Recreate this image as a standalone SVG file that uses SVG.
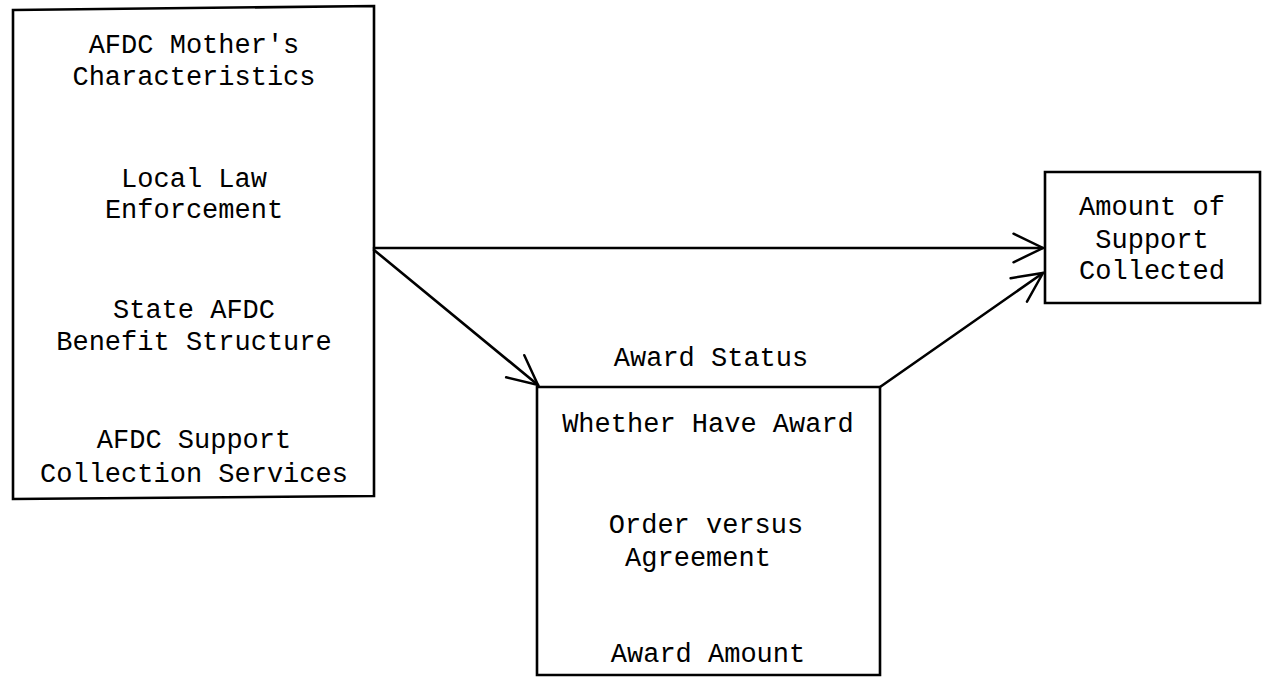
<svg xmlns="http://www.w3.org/2000/svg" width="1262" height="677" viewBox="0 0 1262 677">
<defs>
<style>
.box{fill:none;stroke:#000;stroke-width:2.6;stroke-linejoin:miter}
.t{font-family:"Liberation Mono","Courier New",monospace;font-size:27px;fill:#000;text-anchor:middle}
.c{fill:none;stroke:#000;stroke-width:2.6;stroke-linecap:round}
</style>
<marker id="arr" markerUnits="userSpaceOnUse" markerWidth="40" markerHeight="40" viewBox="-40 -20 42 40" refX="0" refY="0" orient="auto" overflow="visible">
<path d="M-31,-15 L0,0 L-31,15" fill="none" stroke="#000" stroke-width="2.6" stroke-linecap="round" stroke-linejoin="miter"/>
</marker>
</defs>
<rect width="1262" height="677" fill="#fff"/>
<g id="determinants">
<path class="box" d="M13,10 L374,6 L374,496 L13,499 Z"/>
<text class="t" x="194" y="53">AFDC Mother's</text>
<text class="t" x="194" y="85">Characteristics</text>
<text class="t" x="194" y="187">Local Law</text>
<text class="t" x="194" y="218">Enforcement</text>
<text class="t" x="194" y="318">State AFDC</text>
<text class="t" x="194" y="350">Benefit Structure</text>
<text class="t" x="194" y="448">AFDC Support</text>
<text class="t" x="194" y="482">Collection Services</text>
</g>
<g id="award-status">
<text class="t" x="711" y="366">Award Status</text>
<path class="box" d="M537,387 L880,387 L880,675 L537,675 Z"/>
<text class="t" x="708" y="432">Whether Have Award</text>
<text class="t" x="706" y="533">Order versus</text>
<text class="t" x="698" y="566">Agreement</text>
<text class="t" x="708" y="662">Award Amount</text>
</g>
<g id="support-collected">
<path class="box" d="M1045,172 L1260,172 L1260,303 L1045,303 Z"/>
<text class="t" x="1152" y="215">Amount of</text>
<text class="t" x="1152" y="248">Support</text>
<text class="t" x="1152" y="279">Collected</text>
</g>
<g id="connectors">
<path class="c" d="M374,248 L1043,248" marker-end="url(#arr)"/>
<path class="c" d="M374,250 L538,385" marker-end="url(#arr)"/>
<path class="c" d="M880,387 L1043,273" marker-end="url(#arr)"/>
</g>
</svg>
